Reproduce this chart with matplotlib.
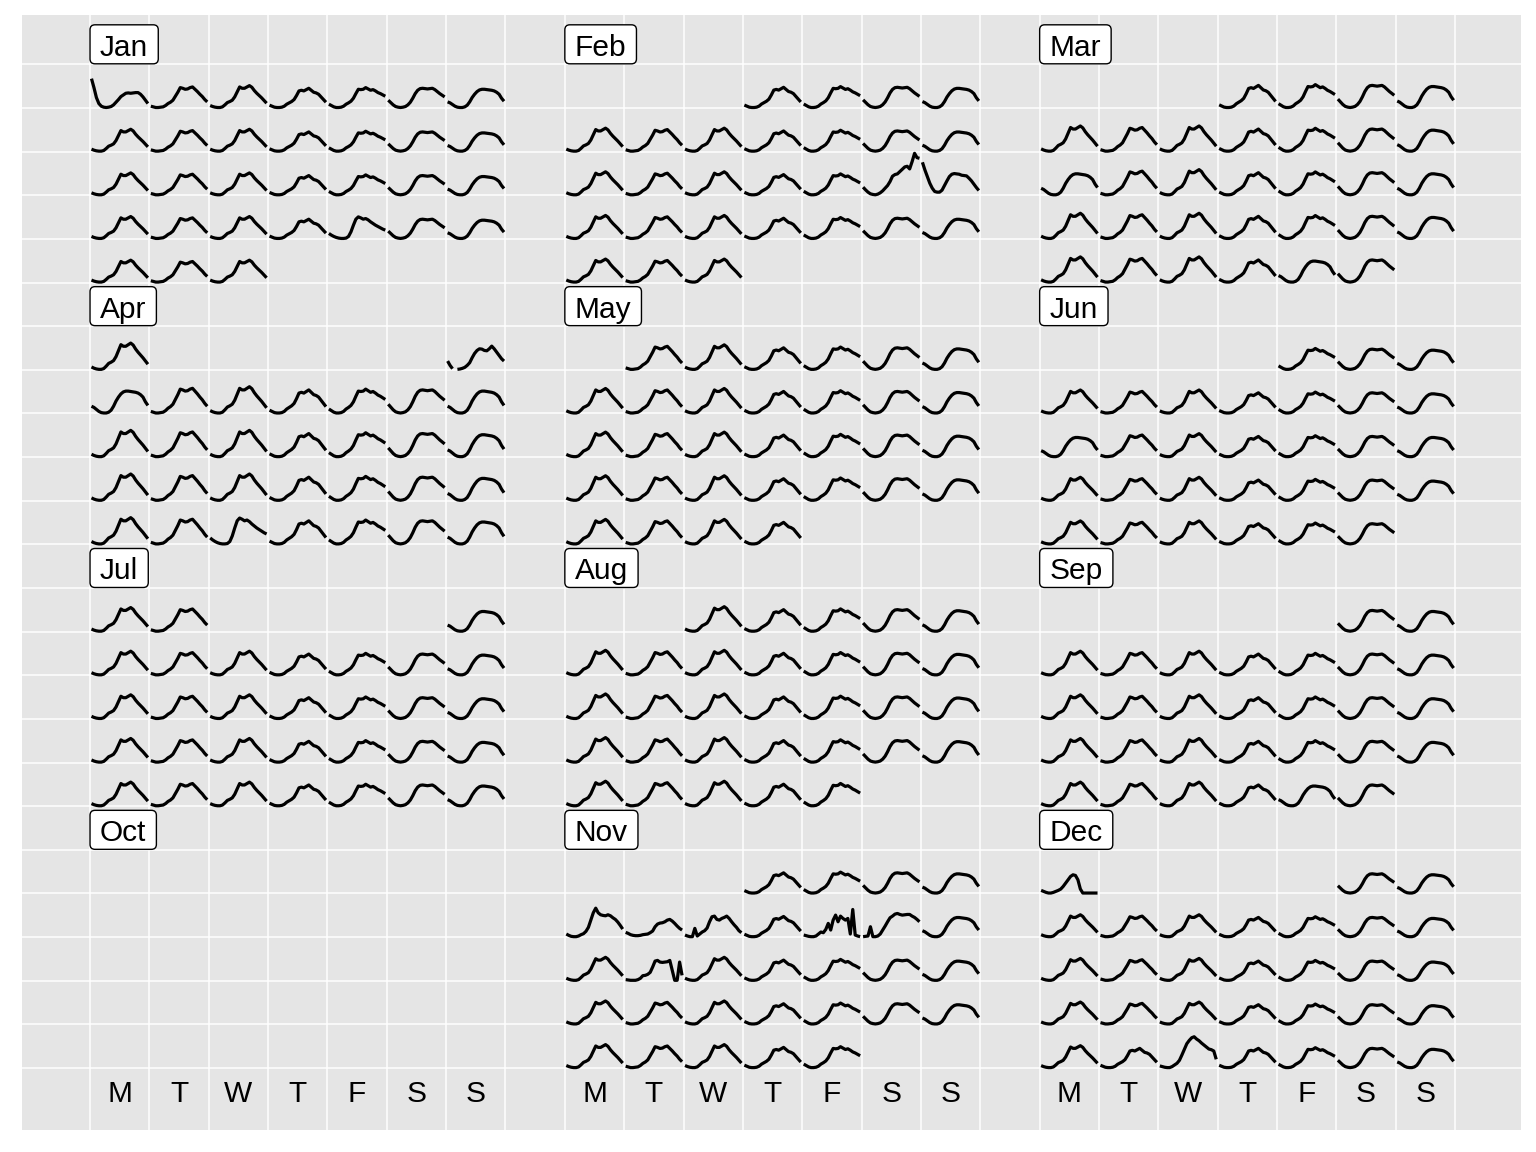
import datetime
import numpy as np
import matplotlib
matplotlib.use("Agg")
import matplotlib.pyplot as plt
from matplotlib.patches import FancyBboxPatch
from matplotlib.transforms import IdentityTransform

plt.rcParams['font.family'] = ['Liberation Sans', 'DejaVu Sans']

YEAR = 2018
MONTHS = ['Jan', 'Feb', 'Mar', 'Apr', 'May', 'Jun',
          'Jul', 'Aug', 'Sep', 'Oct', 'Nov', 'Dec']
DOW_LABELS = ['M', 'T', 'W', 'T', 'F', 'S', 'S']
HOURS = np.arange(24)

# typical hourly profiles read off the cells (Jan level)
MON_WED = [6, 3, 1, 0, 0, 2, 8, 15, 18, 22, 32, 47, 62, 58, 58, 62, 66, 61, 51, 43, 36, 29, 21, 13]
TUESDAY = [4, 2, 0, 0, 1, 2, 6, 12, 16, 22, 34, 46, 60, 58, 55, 56, 60, 62, 55, 48, 40, 33, 24, 17]
THURSDAY = [7, 4, 1, 0, 0, 1, 4, 10, 14, 18, 24, 36, 50, 52, 50, 54, 58, 52, 46, 44, 40, 32, 24, 16]
FRIDAY = [10, 6, 2, 0, 0, 1, 4, 10, 14, 19, 28, 42, 55, 54, 55, 60, 56, 52, 54, 50, 45, 42, 38, 34]
SATURDAY = [22, 15, 8, 3, 1, 0, 1, 3, 8, 16, 28, 42, 52, 57, 58, 57, 56, 57, 58, 54, 48, 42, 37, 32]
SUNDAY = [17, 14, 9, 4, 1, 0, 0, 2, 7, 17, 30, 40, 48, 53, 55, 55, 54, 53, 52, 50, 46, 40, 28, 19]
HOLIDAY = [15, 10, 6, 3, 1, 0, 0, 1, 6, 20, 40, 58, 65, 62, 58, 60, 56, 50, 45, 40, 36, 32, 28, 25]

# one-off days
NEW_YEAR = [87, 60, 30, 12, 4, 1, 0, 1, 3, 8, 16, 24, 33, 38, 43, 44, 43, 44, 45, 45, 40, 32, 22, 12]
WHITE_NIGHT_SAT = [23, 15, 8, 3, 1, 0, 2, 6, 12, 20, 28, 40, 56, 61, 63, 70, 77, 84, 86, 78, 100, 125, 112, 110]
WHITE_NIGHT_SUN = [98, 75, 55, 35, 20, 10, 8, 8, 14, 28, 42, 55, 62, 64, 63, 62, 59, 58, 57, 50, 42, 32, 22, 13]
DST_SUNDAY = [25, 12, 2, np.nan, 0, 1, 3, 6, 12, 20, 35, 48, 57, 62, 61, 57, 56, 62, 70, 62, 52, 42, 32, 25]
PRE_CUP_MON = [8, 4, 1, 0, 0, 2, 6, 9, 16, 28, 50, 72, 86, 72, 66, 64, 63, 66, 63, 57, 52, 44, 34, 23]
CUP_DAY = [13, 10, 6, 4, 3, 3, 4, 6, 7, 8, 12, 17, 30, 38, 41, 42, 45, 50, 52, 47, 40, 32, 25, 20]
NOV_07 = [5, 2, 0, 0, 25, 2, 8, 14, 18, 26, 45, 60, 62, 52, 50, 55, 58, 62, 55, 45, 36, 28, 18, 12]
NOV_09 = [5, 3, 1, 0, 0, 2, 8, 14, 12, 22, 40, 20, 50, 65, 45, 62, 55, 50, 55, 8, 82, 5, 2, 0]
NOV_10 = [0, 1, 2, 30, 0, 0, 2, 8, 20, 32, 45, 57, 62, 68, 70, 67, 65, 66, 67, 67, 62, 58, 52, 45]
NOV_13 = [2, 1, 0, 0, 0, 2, 6, 14, 15, 18, 24, 40, 58, 60, 55, 54, 55, 56, 60, 30, 0, 0, 55, 15]
BOXING_DAY = [5, 3, 1, 0, 0, 3, 8, 13, 22, 38, 55, 72, 82, 90, 93, 86, 81, 74, 68, 62, 56, 54, 50, 25]
NYE = [8, 5, 2, 0, 0, 2, 5, 8, 12, 20, 30, 40, 50, 55, 53, 40, 12, 0, 0, 0, 0, 0, 0, 0]

# overall level of each month relative to the profiles above
MONTH_SCALE = [1.0, 1.05, 1.15, 1.2, 1.12, 1.05, 1.08, 1.12, 1.08, 1.0, 1.05, 1.0]

# profile code for every day of each month (Oct and Sep 30 missing)
JAN_DAYS = "n" + "CABFSU" + "ACABFSU" + "ACABFSU" + "ACABHSU" + "ACA"
FEB_DAYS = "BFSU" + "ACABFSU" + "ACABFwx" + "ACABFSU" + "ACA"
MAR_DAYS = "BFSU" + "ACABFSU" + "UCABFSU" + "ACABFSU" + "ACABUS"
APR_DAYS = "dU" + "CABFSU" + "ACABFSU" + "ACABFSU" + "ACHBFSU" + "A"
MAY_DAYS = "CABFSU" + "ACABFSU" + "ACABFSU" + "ACABFSU" + "ACAB"
JUN_DAYS = "FSU" + "ACABFSU" + "UCABFSU" + "ACABFSU" + "ACABFS"
JUL_DAYS = "U" + "ACABFSU" + "ACABFSU" + "ACABFSU" + "ACABFSU" + "AC"
AUG_DAYS = "ABFSU" + "ACABFSU" + "ACABFSU" + "ACABFSU" + "ACABF"
SEP_DAYS = "SU" + "ACABFSU" + "ACABFSU" + "ACABFSU" + "ACABUS"
OCT_DAYS = ""
NOV_DAYS = "BFSU" + "pcqBrsU" + "AtABFSU" + "ACABFSU" + "ACABF"
DEC_DAYS = "SU" + "ACABFSU" + "ACABFSU" + "ACABFSU" + "ABbBFSU" + "e"

MONTH_DAYS = [JAN_DAYS, FEB_DAYS, MAR_DAYS, APR_DAYS, MAY_DAYS, JUN_DAYS,
              JUL_DAYS, AUG_DAYS, SEP_DAYS, OCT_DAYS, NOV_DAYS, DEC_DAYS]

regular = {'A': MON_WED, 'C': TUESDAY, 'B': THURSDAY, 'F': FRIDAY,
           'S': SATURDAY, 'U': SUNDAY, 'H': HOLIDAY}
special = {'n': NEW_YEAR, 'w': WHITE_NIGHT_SAT, 'x': WHITE_NIGHT_SUN,
           'd': DST_SUNDAY, 'p': PRE_CUP_MON, 'c': CUP_DAY, 'q': NOV_07,
           'r': NOV_09, 's': NOV_10, 't': NOV_13, 'b': BOXING_DAY, 'e': NYE}


def day_values(code, m):
    if code in regular:
        return np.array(regular[code], dtype=float) * MONTH_SCALE[m]
    return np.array(special[code], dtype=float)


# build the series for each day with its calendar cell
days = []
for m, codes in enumerate(MONTH_DAYS):
    first_dow = datetime.date(YEAR, m + 1, 1).weekday()
    for i, code in enumerate(codes):
        d = i + 1
        dow = datetime.date(YEAR, m + 1, d).weekday()
        week = (d - 1 + first_dow) // 7
        if week == 5:
            week = 0  # overflow week wraps to the top row
        days.append((m, dow, week, day_values(code, m)))

vmax = max(np.nanmax(v) for _, _, _, v in days)

fig = plt.figure(figsize=(15.36, 11.52), dpi=100)
ax = fig.add_axes([22 / 1536, 1 - 1130 / 1152, 1499 / 1536, 1115 / 1152])
ax.set_facecolor('#E5E5E5')
for s in ax.spines.values():
    s.set_visible(False)

for m, dow, week, vals in days:
    x0 = (m % 3) * 8 + dow
    bottom = (m // 3) * 6 + week + 1
    xs = x0 + 0.025 + 0.95 * HOURS / 23
    ys = bottom - 0.01 - 0.95 * vals / vmax
    ax.plot(xs, ys, color='black', lw=2.3, solid_joinstyle='round', solid_capstyle='butt')

ax.set_xticks(range(24))
ax.set_yticks(range(24))
ax.grid(color='white', lw=1.1)
ax.set_axisbelow(True)
ax.tick_params(length=0, labelbottom=False, labelleft=False)
ax.set_xlim(-1.146, 24.11)
ax.set_ylim(24.42, -1.13)

# month labels in rounded boxes sitting on top of each month block
renderer = fig.canvas.get_renderer()
inv = ax.transData.inverted()
for m, name in enumerate(MONTHS):
    px, py = ax.transData.transform(((m % 3) * 8, (m // 3) * 6))
    tx, ty = inv.transform((px + 10, py + 8.5))
    t = ax.text(tx, ty, name, ha='left', va='baseline', fontsize=21.5, zorder=6)
    w = t.get_window_extent(renderer).width
    box = FancyBboxPatch((px, py + 0.5), w + 20, 39,
                         boxstyle='round,pad=0,rounding_size=5',
                         transform=IdentityTransform(), fc='white', ec='black',
                         lw=1.0, zorder=5, clip_on=False)
    ax.add_artist(box)

# day of week labels
for mc in range(3):
    for d, lab in enumerate(DOW_LABELS):
        ax.text(mc * 8 + d + 0.5, 23.6, lab, ha='center', va='center',
                fontsize=21.5)

plt.savefig('out.png', dpi=100)
plt.close()
